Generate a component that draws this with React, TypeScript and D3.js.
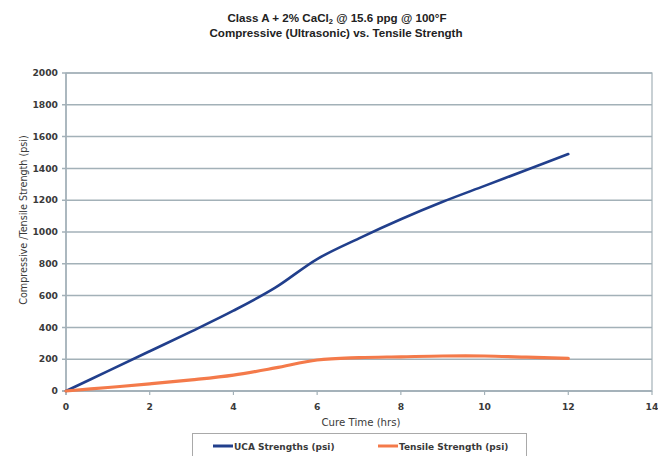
import React from "react";
import * as d3 from "d3";

const cureTime = [0, 1, 2, 3, 4, 5, 6, 7, 8, 9, 10, 11, 12];
const ucaStrength = [0, 125, 250, 375, 505, 650, 830, 960, 1080, 1190, 1290, 1390, 1490];
const tensileStrength = [0, 22, 45, 70, 100, 145, 195, 210, 215, 220, 220, 213, 205];
const xTicks = [0, 2, 4, 6, 8, 10, 12, 14];
const yTicks = [0, 200, 400, 600, 800, 1000, 1200, 1400, 1600, 1800, 2000];
const seriesNames = ["UCA Strengths (psi)", "Tensile Strength (psi)"];
const seriesColors = ["#213f8c", "#f47a4a"];

const W = 658;
const H = 456;
const M = { left: 66, right: 652, top: 73, bottom: 391 };
const gridColor = "#a3b1b8";
const textColor = "#3a3a3a";

export default function App() {
  const x = d3.scaleLinear().domain([0, 14]).range([M.left, M.right]);
  const y = d3.scaleLinear().domain([0, 2000]).range([M.bottom, M.top]);
  const line = d3
    .line<number>()
    .x((_, i) => x(cureTime[i]))
    .y((d) => y(d))
    .curve(d3.curveCatmullRom.alpha(0.5));
  const series = [ucaStrength, tensileStrength];
  const font = "'DejaVu Sans', Verdana, sans-serif";

  return (
    <svg
      width={W}
      height={H}
      style={{ position: "absolute", left: 0, top: 0, background: "#fff" }}
      fontFamily={font}
    >
      <rect x={0} y={0} width={W} height={H} fill="#ffffff" />
      <text
        x={337}
        y={22}
        textAnchor="middle"
        fontFamily="'Liberation Sans', Arial, sans-serif"
        fontWeight="bold"
        fontSize={11.6}
        fill="#222"
      >
        Class A + 2% CaCl
        <tspan fontSize={7.5} dy={2}>2</tspan>
        <tspan dy={-2}> @ 15.6 ppg @ 100°F</tspan>
      </text>
      <text
        x={336}
        y={37}
        textAnchor="middle"
        fontFamily="'Liberation Sans', Arial, sans-serif"
        fontWeight="bold"
        fontSize={11.6}
        fill="#222"
      >
        Compressive (Ultrasonic) vs. Tensile Strength
      </text>

      {/* plot border & gridlines */}
      <rect
        x={M.left}
        y={M.top}
        width={M.right - M.left}
        height={M.bottom - M.top}
        fill="#fff"
        stroke={gridColor}
        strokeWidth={1.2}
      />
      {yTicks.map((t) => (
        <g key={"y" + t}>
          <line x1={M.left - 4} x2={M.right} y1={y(t)} y2={y(t)} stroke={gridColor} strokeWidth={1.5} />
          <text
            x={M.left - 8}
            y={y(t)}
            dy="0.35em"
            textAnchor="end"
            fontSize={9.2}
            fontWeight="bold"
            fill={textColor}
          >
            {t}
          </text>
        </g>
      ))}
      {xTicks.map((t) => (
        <g key={"x" + t}>
          <line x1={x(t)} x2={x(t)} y1={M.bottom} y2={M.bottom + 4} stroke={gridColor} strokeWidth={1.2} />
          <text x={x(t)} y={M.bottom + 19} textAnchor="middle" fontSize={9.2} fontWeight="bold" fill={textColor}>
            {t}
          </text>
        </g>
      ))}
      <line x1={M.left} x2={M.left} y1={M.top} y2={M.bottom + 4} stroke={gridColor} strokeWidth={1.5} />
      <line x1={M.left - 4} x2={M.right} y1={M.bottom} y2={M.bottom} stroke={gridColor} strokeWidth={1.5} />

      {series.map((s, i) => (
        <path
          key={i}
          d={line(s) || ""}
          fill="none"
          stroke={seriesColors[i]}
          strokeWidth={i === 0 ? 2.6 : 3.2}
          strokeLinejoin="round"
          strokeLinecap="round"
        />
      ))}

      <text x={361} y={426} textAnchor="middle" fontSize={10.2} fill={textColor}>
        Cure Time (hrs)
      </text>
      <text
        transform={`translate(27, 220) rotate(-90)`}
        textAnchor="middle"
        fontSize={9.6}
        fill={textColor}
      >
        Compressive /Tensile Strength (psi)
      </text>

      {/* legend */}
      <rect x={192.5} y={433.5} width={334} height={30} fill="#fff" stroke="#a9a9a9" strokeWidth={1} />
      {seriesNames.map((n, i) => {
        const lx = i === 0 ? 213 : 378;
        return (
          <g key={n}>
            <line x1={lx} x2={lx + 20} y1={446} y2={446} stroke={seriesColors[i]} strokeWidth={3} />
            <text x={lx + 21} y={449.5} fontSize={9} fontWeight="bold" fill={textColor}>
              {n}
            </text>
          </g>
        );
      })}
    </svg>
  );
}
